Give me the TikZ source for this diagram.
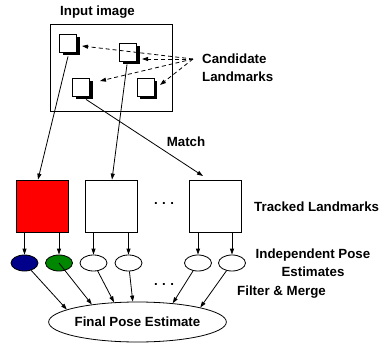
\documentclass[tikz,border=0pt]{standalone}
\usepackage{fontspec}
\setmainfont{Liberation Sans}
\usetikzlibrary{arrows.meta,shapes.geometric,shadows}
\definecolor{posered}{RGB}{255,0,0}
\definecolor{poseblue}{RGB}{0,0,139}
\definecolor{posegreen}{RGB}{0,135,0}
\begin{document}
\begin{tikzpicture}[x=1pt,y=-1pt,
  every node/.style={font=\fontsize{13.3}{18}\selectfont\bfseries},
  lbl/.style={inner sep=0pt},
  arr/.style={draw=black,line width=0.8pt,-{Triangle[length=6pt,width=4pt]}},
  darr/.style={arr,dash pattern=on 4pt off 3pt},
  cand/.style={draw=black,fill=white,line width=0.8pt,minimum width=17pt,minimum height=18pt,inner sep=0pt,
    drop shadow={shadow xshift=3pt,shadow yshift=-3pt,fill=black,opacity=1}},
  track/.style={draw=black,line width=0.8pt,minimum size=52pt,inner sep=0pt},
  est/.style={ellipse,draw=black,line width=0.8pt,minimum width=27pt,minimum height=16pt,inner sep=0pt},
  dots/.style={font=\fontsize{13.3}{18}\selectfont\bfseries,inner sep=0pt}]
\useasboundingbox (0,0) rectangle (384,343);
% input image
\node[lbl] (inlbl) at (97.5,12) {Input image};
\node[draw=black,line width=0.8pt,minimum width=122pt,minimum height=87pt,inner sep=0pt] (img) at (111,67.5) {};
\node[cand] (sq1) at (68,43) {};
\node[cand] (sq2) at (128,52) {};
\node[cand] (sq3) at (81,87) {};
\node[cand] (sq4) at (145.5,87) {};
\node[lbl,align=left,anchor=west] (cl) at (202,68) {Candidate\\Landmarks};
\coordinate (src) at (193,59);
\coordinate (d1) at (82,46);
\coordinate (d2) at (142,59);
\coordinate (d3) at (100,81);
\coordinate (d4) at (160,85);
\draw[darr] (src) -- (d1);
\draw[darr] (src) -- (d2);
\draw[darr] (src) -- (d3);
\draw[darr] (src) -- (d4);
% tracked landmarks
\node[track,fill=posered] (t1) at (42,206) {};
\node[track,fill=white] (t2) at (111,206) {};
\node[track,fill=white] (t3) at (215,206) {};
\node[dots] (dotsA) at (164,204) {.\,\,.\,\,.};
\node[lbl,anchor=west] (tl) at (254,207) {Tracked Landmarks};
\node[lbl] (match) at (186,142) {Match};
\coordinate (m3) at (203,176);
\draw[arr] ([yshift=-4pt]sq1.south) -- ([xshift=-4pt]t1.north);
\draw[arr] ([xshift=-1pt,yshift=-3pt]sq2.south) -- ([xshift=1pt]t2.north);
\draw[arr] ([xshift=5pt,yshift=-3pt]sq3.south) -- (m3);
% pose estimates
\node[est,fill=poseblue] (e1) at (24.5,263) {};
\node[est,fill=posegreen] (e2) at (59,263) {};
\node[est,fill=white] (e3) at (93.5,263) {};
\node[est,fill=white] (e4) at (128.5,263) {};
\node[est,fill=white] (e5) at (198,263) {};
\node[est,fill=white] (e6) at (232,263) {};
\draw[arr] (t1.south -| e1) -- (e1);
\draw[arr] (t1.south -| e2) -- (e2);
\draw[arr] (t2.south -| e3) -- (e3);
\draw[arr] (t2.south -| e4) -- (e4);
\draw[arr] (t3.south -| e5) -- (e5);
\draw[arr] (t3.south -| e6) -- (e6);
\node[lbl,align=center] (ipe) at (313,263) {Independent Pose\\Estimates};
\node[lbl,anchor=west] (fm) at (237,292) {Filter \& Merge};
\node[dots] (dotsB) at (164,285) {.\,\,.\,\,.};
% final
\node[ellipse,draw=black,line width=0.8pt,minimum width=149pt,minimum height=40pt,inner sep=0pt] (final) at (137.5,322) {Final Pose Estimate};
\draw[arr] (e1) -- (final.170);
\draw[arr] (e2.center) -- (final.159);
\draw[arr] (e3) -- (final.140);
\draw[arr] (e4) -- (final.103);
\draw[arr] (e5) -- (final.28);
\draw[arr] (e6) -- (final.13);
\end{tikzpicture}
\end{document}
